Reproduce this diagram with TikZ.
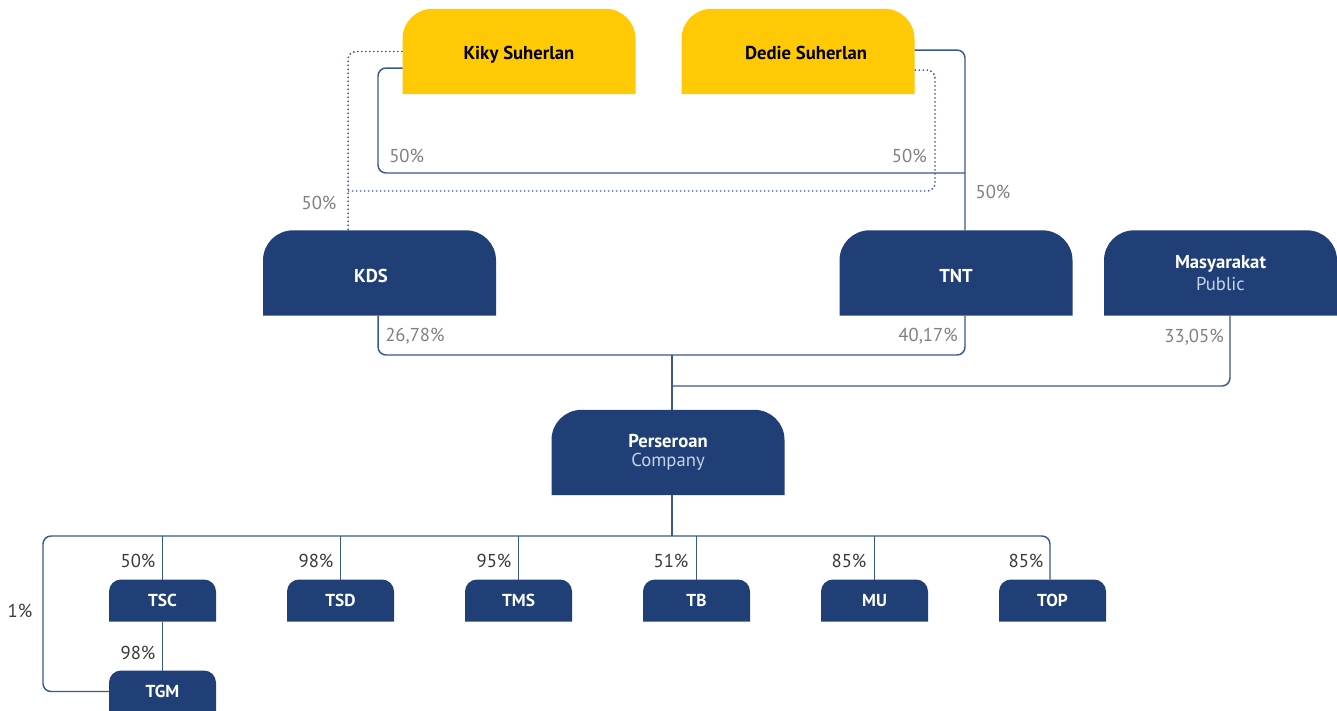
\documentclass[tikz,border=0pt]{standalone}
\usepackage{fontspec}
\setmainfont{PT Sans}
\usetikzlibrary{backgrounds,calc}
\definecolor{navy}{HTML}{1F3F76}
\definecolor{gold}{HTML}{FFCA05}
\definecolor{lnc}{HTML}{3A5890}
\definecolor{pctu}{HTML}{808080}
\definecolor{pctl}{HTML}{3A3A3A}
\definecolor{subt}{HTML}{C9D3E6}
\newcommand\tabbox[3]{%
 \begin{pgfonlayer}{background}
 \fill[#2] (#1.south west) -- ([yshift=-#3]#1.north west) arc[start angle=180,end angle=90,radius=#3] -- ([xshift=-#3]#1.north east) arc[start angle=90,end angle=0,radius=#3] -- (#1.south east) -- cycle;
 \end{pgfonlayer}}
\tikzset{
 bigbox/.style={minimum width=174.75pt, minimum height=64pt, inner sep=0pt, outer sep=0pt, align=center, font=\fontsize{14}{16}\selectfont\bfseries},
 smallbox/.style={minimum width=80.25pt, minimum height=31.5pt, inner sep=0pt, outer sep=0pt, font=\fontsize{13}{15}\selectfont\bfseries, text=white},
 conn/.style={draw=lnc, line width=1.1pt, rounded corners=6pt},
 dotln/.style={draw=lnc, line width=1.1pt, dash pattern=on 1.1pt off 1.9pt, rounded corners=6pt},
 pu/.style={text=pctu, font=\fontsize{14}{16}\selectfont, inner sep=0pt},
 pl/.style={text=pctl, font=\fontsize{14}{16}\selectfont, inner sep=0pt},
}
\begin{document}
\begin{tikzpicture}[x=0.75pt,y=-0.75pt]
\begin{pgfonlayer}{background}
\fill[white] (0,0) rectangle (1337,710);
\end{pgfonlayer}
\useasboundingbox (0,0) rectangle (1337,710);
% big boxes
\node[bigbox, text=black] (kiky) at (519,51.5) {};
\node[bigbox, text=black] (dedie) at (798,51.5) {};
\node[bigbox, text=white] (kds) at (379.5,273) {};
\node[bigbox, text=white] (tnt) at (956,273) {};
\node[bigbox, text=white] (masy) at (1220.5,273) {Masyarakat\\[1pt]{\mdseries\color{subt}Public}};
\node[bigbox, text=white] (pers) at (668,452.5) {Perseroan\\[-2pt]{\mdseries\color{subt}Company}};
\node[bigbox, text=black, minimum height=0pt] (kikyt) at (519,55) {Kiky Suherlan};
\node[bigbox, text=black, minimum height=0pt] (dediet) at (806,53) {Dedie Suherlan};
\node[bigbox, text=white, minimum height=0pt] (kdst) at (371,276) {KDS};
\node[bigbox, text=white, minimum height=0pt] (tntt) at (956,276) {TNT};
\tabbox{kiky}{gold}{22.5pt}
\tabbox{dedie}{gold}{22.5pt}
\tabbox{kds}{navy}{22.5pt}
\tabbox{tnt}{navy}{22.5pt}
\tabbox{masy}{navy}{22.5pt}
\tabbox{pers}{navy}{22.5pt}
% small boxes
\node[smallbox] (tsc) at (162.5,600.5) {TSC};
\node[smallbox] (tsd) at (340.5,600.5) {TSD};
\node[smallbox] (tms) at (518.5,600.5) {TMS};
\node[smallbox] (tb) at (696.5,600.5) {TB};
\node[smallbox] (mu) at (874.5,600.5) {MU};
\node[smallbox] (top) at (1052.5,600.5) {TOP};
\node[smallbox] (tgm) at (162.5,691.5) {TGM};
\foreach \n in {tsc,tsd,tms,tb,mu,top,tgm}{\tabbox{\n}{navy}{9pt}}
% coordinates
\coordinate (tj) at (965,173);
\coordinate (kj) at (348,191);
\coordinate (pj) at (672,355);
\coordinate (mj) at (672,386);
\coordinate (hl) at (0,536);
% top solid connectors
\draw[conn] ([yshift=1.1pt]dedie.east) -| ([xshift=6.75pt]tnt.north);
\draw[conn] ([yshift=-12.4pt]kiky.west) -| (378,173) -- (tj);
% dotted connectors
\draw[dotln] (kiky.west) -| ([xshift=-23.6pt]kds.north);
\draw[dotln] ([yshift=-13.9pt]dedie.east) -| (935,191) -- (kj);
% middle connectors
\draw[conn] ([xshift=-1.1pt]kds.south) |- (pj) -| ([xshift=6.75pt]tnt.south);
\draw[conn] ([xshift=7.1pt]masy.south) |- (mj);
\draw[conn] (pj) -- ([xshift=3pt]pers.north);
% bottom connectors
\draw[conn] ([xshift=3pt]pers.south) -- (672,536);
\draw[conn] (tgm.west) -| (43,536) -| ([xshift=-1.9pt]top.north);
\foreach \n in {tsc,tsd,tms,tb,mu}{\draw[conn] (\n.north) -- (\n.north |- hl);}
\draw[conn] (tsc.south) -- (tgm.north);
% labels
\node[pu, anchor=west] (l1) at (389,156) {50\%};
\node[pu, anchor=east] (l2) at (927,156) {50\%};
\node[pu] (l3) at (993,192) {50\%};
\node[pu] (l4) at (319,203) {50\%};
\node[pu, anchor=west] (l5) at (385,336) {26,78\%};
\node[pu, anchor=east] (l6) at (958,336) {40,17\%};
\node[pu, anchor=east] (l7) at (1224,337) {33,05\%};
\node[pl] (b1) at (138,561) {50\%};
\node[pl] (b2) at (316,561) {98\%};
\node[pl] (b3) at (494,561) {95\%};
\node[pl] (b4) at (671,561) {51\%};
\node[pl] (b5) at (849,561) {85\%};
\node[pl] (b6) at (1026,561) {85\%};
\node[pl] (b7) at (138,653) {98\%};
\node[pl] (b8) at (20,611) {1\%};
\end{tikzpicture}
\end{document}
